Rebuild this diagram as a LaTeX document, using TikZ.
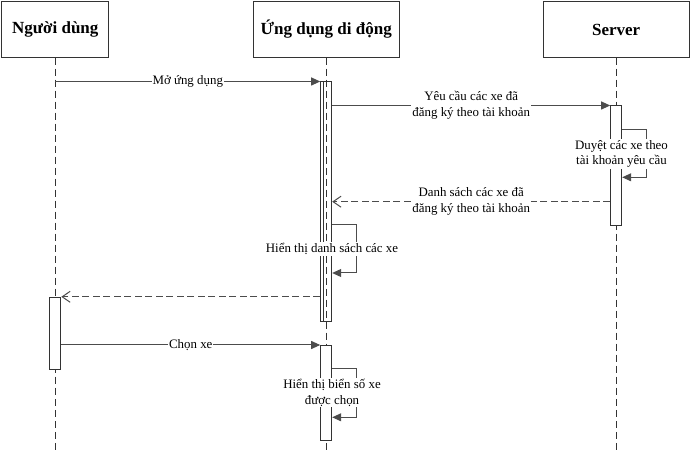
\documentclass[tikz,border=0pt]{standalone}
\usepackage{fontspec}
\setmainfont{Liberation Serif}
\usetikzlibrary{arrows.meta,calc}
\tikzset{
  actor/.style={draw=black!80, line width=1pt, fill=white, minimum width=107pt, minimum height=55.5pt, inner sep=0pt, font=\fontsize{17}{20}\selectfont\bfseries},
  life/.style={draw=black!80, line width=1pt, dash pattern=on 7pt off 4pt},
  actbar/.style={draw=black!80, line width=1pt, minimum width=11pt, inner sep=0pt, anchor=north},
  msg/.style={draw=black!70, line width=1pt, -{Triangle[length=9pt,width=8pt]}},
  ret/.style={draw=black!70, line width=1pt, dash pattern=on 7pt off 3.5pt, -{Straight Barb[length=8pt,width=11pt]}},
  lbl/.style={fill=white, inner sep=1pt, font=\fontsize{12.9}{15.6}\selectfont, align=center, text=black}
}
\begin{document}
\begin{tikzpicture}[x=1pt,y=-1pt]
\useasboundingbox (0,0) rectangle (691,454);
% actors
\node[actor] (u) at (55.3,29.5) {Người dùng};
\node[actor, minimum width=146pt] (a) at (326.2,29.5) {Ứng dụng di động};
\node[actor, minimum width=146pt] (s) at (616.2,29.5) {Server};
% lifeline ends
\coordinate (ue) at (55.3,452);
\coordinate (ae) at (326.2,452);
\coordinate (se) at (616.2,452);
\draw[life] (u.south) -- (ue);
\draw[life] (a.south) -- (ae);
\draw[life] (s.south) -- (se);
% activation bars
\node[actbar, minimum height=239.5pt] (a1) at (326.2,81.5) {};
\draw[draw=black!80, line width=1pt] ($(a1.north west)+(2.8,0)$) -- ($(a1.south west)+(2.8,0)$);
\node[actbar, fill=white, minimum height=119.5pt] (s1) at (616.2,105.5) {};
\node[actbar, fill=white, minimum height=72.3pt] (u1) at (55.3,296.8) {};
\node[actbar, fill=white, minimum height=95pt] (a2) at (326.2,345) {};
% 1 Mở ứng dụng
\draw[msg] (u.south |- a1.north west) -- node[lbl] (l1) {Mở ứng dụng} (a1.north west);
% 2 Yêu cầu
\draw[msg] (a1.east |- s1.north west) -- node[lbl] (l2) {Yêu cầu các xe đã\\đăng ký theo tài khoản} (s1.north west);
% 3 self server
\coordinate (s3a) at ($(s1.north east)+(0,24.5)$);
\coordinate (s3b) at ($(s1.north east)+(24,24.5)$);
\coordinate (s3c) at ($(s1.north east)+(24,71.8)$);
\coordinate (s3d) at ($(s1.north east)+(0,71.8)$);
\draw[msg] (s3a) -- (s3b) -- (s3c) -- (s3d);
\node[lbl] (l3) at (621.5,154) {Duyệt các xe theo\\tài khoản yêu cầu};
% 4 return
\coordinate (r4) at ($(s1.north west)+(0,96.2)$);
\draw[ret] (r4) -- node[lbl] (l4) {Danh sách các xe đã\\đăng ký theo tài khoản} (a1.east |- r4);
% 5 self app
\coordinate (s5a) at ($(a1.north east)+(0,143.5)$);
\coordinate (s5b) at ($(a1.north east)+(24,143.5)$);
\coordinate (s5c) at ($(a1.north east)+(24,191.5)$);
\coordinate (s5d) at ($(a1.north east)+(0,191.5)$);
\draw[msg] (s5a) -- (s5b) -- (s5c) -- (s5d);
\node[lbl] (l5) at (332,249) {Hiển thị danh sách các xe};
% 6 return to user
\draw[ret] (a1.west |- u1.north east) -- (u1.north east);
% 7 Chọn xe
\draw[msg] (u1.east |- a2.north west) -- node[lbl] (l7) {Chọn xe} (a2.north west);
% 8 self app 2
\coordinate (s8a) at ($(a2.north east)+(0,23.3)$);
\coordinate (s8b) at ($(a2.north east)+(24,23.3)$);
\coordinate (s8c) at ($(a2.north east)+(24,72.3)$);
\coordinate (s8d) at ($(a2.north east)+(0,72.3)$);
\draw[msg] (s8a) -- (s8b) -- (s8c) -- (s8d);
\node[lbl] (l8) at (332,392.7) {Hiển thị biển số xe\\được chọn};
\end{tikzpicture}
\end{document}
